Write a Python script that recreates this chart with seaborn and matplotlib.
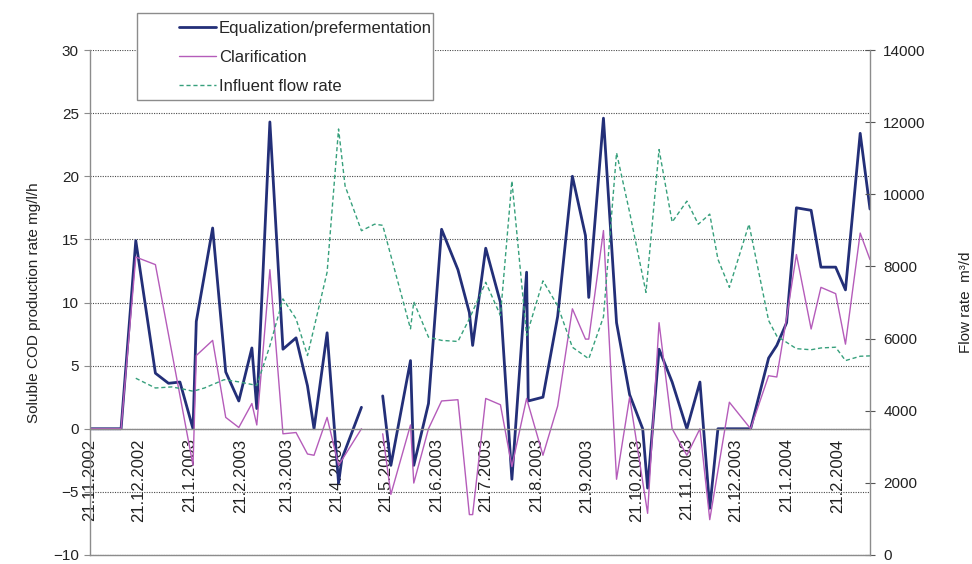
import numpy as np
import pandas as pd
import matplotlib
matplotlib.use("Agg")
import matplotlib.pyplot as plt
from matplotlib.patches import Rectangle
import seaborn as sns

# --- data -------------------------------------------------------------
eq_dates = [
    "2002-11-21", "2002-12-10", "2002-12-19", "2002-12-31", "2003-01-08", "2003-01-15",
    "2003-01-23", "2003-01-25", "2003-02-04", "2003-02-12", "2003-02-20", "2003-02-28",
    "2003-03-03", "2003-03-11", "2003-03-19", "2003-03-27", "2003-04-03", "2003-04-07",
    "2003-04-15", "2003-04-22", "2003-04-24", "2003-05-06", "2003-05-12",
    "2003-05-19", "2003-05-24", "2003-06-05", "2003-06-07", "2003-06-16", "2003-06-24",
    "2003-07-04", "2003-07-11", "2003-07-13", "2003-07-21", "2003-07-30", "2003-08-06",
    "2003-08-15", "2003-08-16", "2003-08-25", "2003-09-03", "2003-09-12", "2003-09-20",
    "2003-09-22", "2003-10-01", "2003-10-09", "2003-10-17", "2003-10-25", "2003-10-28",
    "2003-11-04", "2003-11-12", "2003-11-21", "2003-11-29", "2003-12-05", "2003-12-10",
    "2003-12-30", "2004-01-10", "2004-01-15", "2004-01-21", "2004-01-27", "2004-02-05",
    "2004-02-11", "2004-02-20", "2004-02-26", "2004-03-06", "2004-03-12",
]
eq_values = [
    0.0, 0.0, 14.9, 4.4, 3.6, 3.7,
    0.0, 8.5, 15.9, 4.5, 2.2, 6.4,
    1.6, 24.3, 6.3, 7.2, 3.4, 0.0,
    7.6, -4.3, -2.4, 1.7, None,
    2.6, -2.9, 5.4, -2.9, 2.0, 15.8,
    12.6, 9.2, 6.6, 14.3, 10.0, -4.0,
    12.4, 2.2, 2.5, 8.9, 20.0, 15.3,
    10.4, 24.6, 8.4, 2.7, 0.0, -4.7,
    6.3, 3.7, 0.0, 3.7, -6.3, 0.0,
    0.0, 5.6, 6.6, 8.4, 17.5, 17.3,
    12.8, 12.8, 11.0, 23.4, 17.4,
]

cl_dates = [
    "2002-11-21", "2002-12-10", "2002-12-19", "2002-12-31", "2003-01-23", "2003-01-25",
    "2003-02-04", "2003-02-12", "2003-02-20", "2003-02-28", "2003-03-03", "2003-03-11",
    "2003-03-19", "2003-03-27", "2003-04-03", "2003-04-07", "2003-04-15", "2003-04-22",
    "2003-05-06", "2003-05-12",
    "2003-05-19", "2003-05-24", "2003-06-05", "2003-06-07", "2003-06-16", "2003-06-24",
    "2003-07-04", "2003-07-11", "2003-07-13", "2003-07-21", "2003-07-30", "2003-08-06",
    "2003-08-15", "2003-08-25", "2003-09-03", "2003-09-12", "2003-09-20", "2003-09-22",
    "2003-10-01", "2003-10-09", "2003-10-17", "2003-10-28", "2003-11-04", "2003-11-12",
    "2003-11-21", "2003-11-29", "2003-12-05", "2003-12-17", "2003-12-30", "2004-01-10",
    "2004-01-15", "2004-01-21", "2004-01-27", "2004-02-05", "2004-02-11", "2004-02-20",
    "2004-02-26", "2004-03-06", "2004-03-12",
]
cl_values = [
    0.0, 0.0, 13.6, 13.0, -2.9, 5.8,
    7.0, 0.9, 0.1, 2.0, 0.3, 12.6,
    -0.4, -0.3, -2.0, -2.1, 0.9, -2.9,
    0.0, None,
    -0.4, -5.2, 0.3, -4.3, 0.0, 2.2,
    2.3, -6.8, -6.8, 2.4, 1.9, -3.0,
    2.4, -2.1, 1.8, 9.5, 7.1, 7.1,
    15.7, -4.0, 2.5, -6.7, 8.4, 0.0,
    -2.1, 0.0, -7.2, 2.1, 0.0, 4.2,
    4.1, 8.8, 13.8, 7.9, 11.2, 10.7,
    6.7, 15.5, 13.4,
]

flow_dates = [
    "2002-12-19", "2002-12-31", "2003-01-10", "2003-01-17", "2003-01-23", "2003-01-30",
    "2003-02-11", "2003-02-20", "2003-03-03", "2003-03-11", "2003-03-19", "2003-03-27",
    "2003-04-03", "2003-04-15", "2003-04-22", "2003-04-26", "2003-05-06", "2003-05-14",
    "2003-05-19", "2003-06-05", "2003-06-07", "2003-06-16", "2003-06-24", "2003-07-04",
    "2003-07-11", "2003-07-21", "2003-07-30", "2003-08-06", "2003-08-15", "2003-08-25",
    "2003-09-03", "2003-09-12", "2003-09-22", "2003-10-01", "2003-10-09", "2003-10-17",
    "2003-10-27", "2003-11-04", "2003-11-12", "2003-11-21", "2003-11-28", "2003-12-05",
    "2003-12-10", "2003-12-17", "2003-12-29", "2004-01-10", "2004-01-15", "2004-01-27",
    "2004-02-05", "2004-02-11", "2004-02-20", "2004-02-26", "2004-03-06", "2004-03-12",
]
flow_values = [
    4900, 4630, 4660, 4600, 4540, 4630,
    4860, 4800, 4700, 5800, 7100, 6550,
    5530, 7840, 11810, 10230, 8990, 9170,
    9140, 6270, 7020, 6040, 5950, 5920,
    6550, 7560, 6640, 10370, 6085, 7600,
    6910, 5760, 5440, 6600, 11150, 9500,
    7280, 11240, 9230, 9810, 9170, 9450,
    8200, 7420, 9170, 6500, 6070, 5720,
    5690, 5740, 5760, 5390, 5510, 5520,
]

series_labels = ["Equalization/prefermentation", "Clarification", "Influent flow rate"]
x_start, x_end = "2002-11-21", "2004-03-12"
tick_dates = pd.date_range("2002-11-01", "2004-02-01", freq="MS") + pd.Timedelta(days=20)
tick_labels = [f"{d.day}.{d.month}.{d.year}" for d in tick_dates]


def frame(dates, values):
    df = pd.DataFrame({"date": pd.to_datetime(dates),
                       "value": pd.Series(values, dtype="float")})
    # split at missing values so the line shows a gap
    df["segment"] = df["value"].isna().cumsum()
    return df.dropna()


eq_df = frame(eq_dates, eq_values)
cl_df = frame(cl_dates, cl_values)
flow_df = frame(flow_dates, flow_values)

# --- styling ----------------------------------------------------------
sns.set_style("white")
plt.rcParams["font.family"] = ["Liberation Sans", "DejaVu Sans"]
plt.rcParams["font.size"] = 11

C_EQ = "#232F78"
C_CL = "#B55CBA"
C_FLOW = "#37A07C"
AXIS_GRAY = "#8C8C8C"
TXT = "#222222"

fig = plt.figure(figsize=(9.72, 5.64), dpi=100)
ax = fig.add_axes([90 / 972, 1 - 555 / 564, 780 / 972, 505 / 564])
ax2 = ax.twinx()

sns.lineplot(data=eq_df, x="date", y="value", units="segment", estimator=None,
             color=C_EQ, lw=2.0, ax=ax)
n_eq = len(ax.lines)
sns.lineplot(data=cl_df, x="date", y="value", units="segment", estimator=None,
             color=C_CL, lw=1.0, ax=ax)
sns.lineplot(data=flow_df, x="date", y="value", units="segment", estimator=None,
             color=C_FLOW, lw=1.0, ax=ax2)
for ln in ax2.lines:
    ln.set_dashes((3, 2))

h_eq = ax.lines[0]
h_cl = ax.lines[n_eq]
h_flow = ax2.lines[0]

# left axis and the date axis crossing at zero
ax.set_ylim(-10, 30)
ax.set_yticks(np.arange(-10, 31, 5))
ax.set_xlim(pd.Timestamp(x_start), pd.Timestamp(x_end))
ax.set_xticks(tick_dates)
ax.set_xticklabels(tick_labels)
ax.set_xlabel("")
ax.set_ylabel("Soluble COD production rate mg/l/h", color=TXT, labelpad=9)
ax.yaxis.grid(True, color="#4a4a4a", linestyle=(0, (1, 1.2)), lw=0.8)
ax.xaxis.grid(False)
ax.tick_params(axis="y", direction="out", length=4, width=0.8, color=AXIS_GRAY,
               labelcolor=TXT, pad=4, labelsize=11)
ax.tick_params(axis="x", direction="out", length=4, width=0.8, color=AXIS_GRAY,
               labelcolor=TXT, pad=3, labelrotation=90, labelsize=12)
ax.spines["bottom"].set_position(("data", 0))
for s in ("bottom", "left"):
    ax.spines[s].set_color(AXIS_GRAY)
    ax.spines[s].set_linewidth(1.0)
for s in ("top", "right"):
    ax.spines[s].set_visible(False)

# right axis
ax2.set_ylim(0, 14000)
ax2.set_yticks(np.arange(0, 14001, 2000))
ax2.set_ylabel("Flow rate  m³/d", color=TXT, labelpad=24)
ax2.tick_params(axis="y", direction="inout", length=7, width=0.8, color="#555555",
                labelcolor=TXT, pad=6, labelsize=11)
ax2.grid(False)
for s in ("right", "bottom"):
    ax2.spines[s].set_color(AXIS_GRAY)
    ax2.spines[s].set_linewidth(1.0)
for s in ("top", "left"):
    ax2.spines[s].set_visible(False)

# legend box
fig.patches.append(Rectangle((137 / 972, 1 - 100 / 564), 296 / 972, 87 / 564,
                             transform=fig.transFigure, facecolor="white",
                             edgecolor=AXIS_GRAY, lw=1.0, zorder=4))
fig.legend([h_eq, h_cl, h_flow], series_labels, loc="upper left",
           bbox_to_anchor=(164 / 972, 1 - 6 / 564), bbox_transform=fig.transFigure,
           frameon=False, fontsize=12, handlelength=2.2, handletextpad=0.2,
           labelspacing=0.85)

fig.savefig("out.png", dpi=100)
